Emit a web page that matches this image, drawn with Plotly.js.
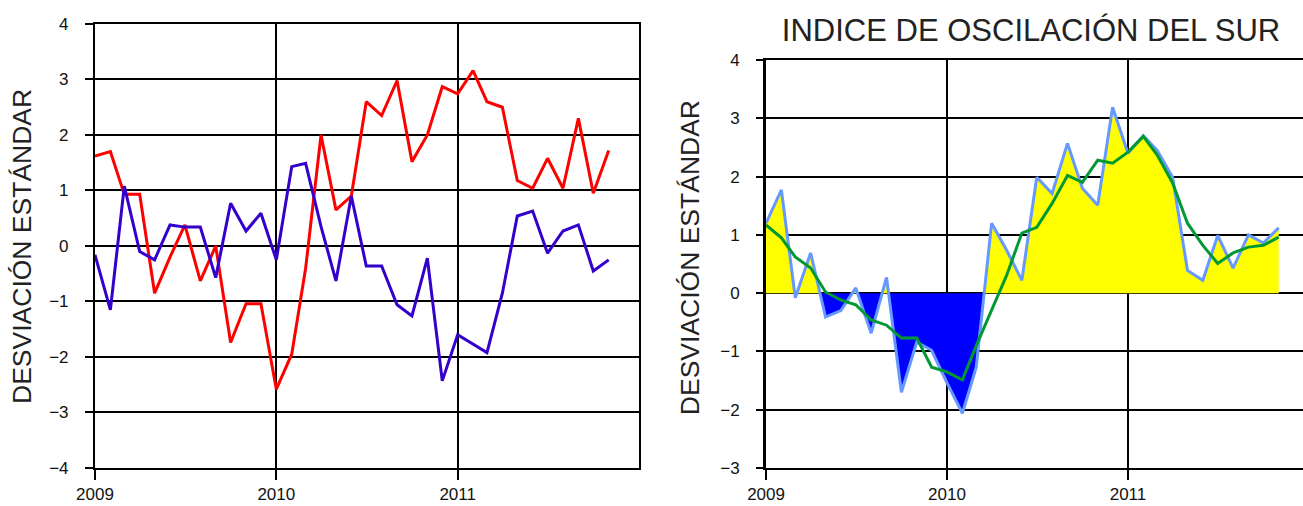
<!DOCTYPE html>
<html>
<head>
<meta charset="utf-8">
<script src="https://cdn.plot.ly/plotly-3.0.1.min.js"></script>
<style>html,body{margin:0;padding:0;background:#fff;}#chart{width:1303px;height:506px;}</style>
</head>
<body>
<div id="chart"></div>
<script>
// Months Jan 2009 - Nov 2011
const months = ["2009-01","2009-02","2009-03","2009-04","2009-05","2009-06","2009-07","2009-08","2009-09","2009-10","2009-11","2009-12",
                "2010-01","2010-02","2010-03","2010-04","2010-05","2010-06","2010-07","2010-08","2010-09","2010-10","2010-11","2010-12",
                "2011-01","2011-02","2011-03","2011-04","2011-05","2011-06","2011-07","2011-08","2011-09","2011-10","2011-11"];

// Left chart series (standard deviation)
const serieRoja = [1.62,1.70,0.93,0.93,-0.85,-0.2,0.38,-0.63,0,-1.74,-1.04,-1.04,
                   -2.58,-1.95,-0.4,2.0,0.65,0.9,2.6,2.35,2.98,1.52,2.0,2.87,
                   2.74,3.16,2.6,2.5,1.18,1.04,1.58,1.04,2.3,0.95,1.72];
const serieAzul = [-0.16,-1.15,1.08,-0.1,-0.25,0.38,0.34,0.34,-0.57,0.77,0.27,0.59,
                   -0.25,1.43,1.49,0.35,-0.63,0.9,-0.36,-0.36,-1.06,-1.26,-0.22,-2.43,
                   -1.6,-1.76,-1.92,-0.85,0.54,0.63,-0.13,0.27,0.38,-0.45,-0.25];

// Right chart: Southern Oscillation Index (monthly) and its running mean
const ios = [1.2,1.77,-0.08,0.69,-0.41,-0.3,0.09,-0.69,0.27,-1.7,-0.84,-0.98,
             -1.54,-2.06,-1.27,1.2,0.74,0.22,1.99,1.71,2.57,1.8,1.51,3.19,
             2.4,2.7,2.45,1.99,0.39,0.22,0.99,0.43,1.0,0.86,1.12];
const iosMedia = [1.17,0.95,0.62,0.43,0.02,-0.12,-0.2,-0.46,-0.55,-0.77,-0.77,-1.27,
                  -1.35,-1.49,-0.9,-0.3,0.3,1.03,1.13,1.54,2.02,1.9,2.28,2.23,
                  2.42,2.69,2.37,1.89,1.2,0.82,0.51,0.69,0.79,0.82,0.96];

const yearTicks = ["2009-01-01","2010-01-01","2011-01-01"];
const yearLabels = ["2009","2010","2011"];
const titulo = "INDICE DE OSCILACIÓN DEL SUR";
const ejeY = "DESVIACIÓN ESTÁNDAR";

// split series into positive / negative fills with zero crossings
function toMs(m){ const p=m.split("-"); return Date.UTC(+p[0], +p[1]-1, 1); }
function splitFill(xs, vs){
  const pos={x:[],y:[]}, neg={x:[],y:[]};
  for(let i=0;i<vs.length;i++){
    const t=toMs(xs[i]), v=vs[i];
    pos.x.push(t); pos.y.push(Math.max(v,0));
    neg.x.push(t); neg.y.push(Math.min(v,0));
    if(i<vs.length-1){
      const v2=vs[i+1];
      if(v*v2<0){
        const t2=toMs(xs[i+1]);
        const tc=t+(t2-t)*(v/(v-v2));
        pos.x.push(tc); pos.y.push(0);
        neg.x.push(tc); neg.y.push(0);
      }
    }
  }
  return {pos,neg};
}
const f = splitFill(months, ios);

const font = "Liberation Sans, Arial, sans-serif";
const traces = [
  {x:months, y:serieRoja, type:"scatter", mode:"lines", line:{color:"#ff0000", width:3}, xaxis:"x", yaxis:"y", hoverinfo:"skip"},
  {x:months, y:serieAzul, type:"scatter", mode:"lines", line:{color:"#3300cc", width:3}, xaxis:"x", yaxis:"y", hoverinfo:"skip"},
  {x:f.pos.x, y:f.pos.y, type:"scatter", mode:"lines", fill:"tozeroy", fillcolor:"#ffff00", line:{width:0, color:"rgba(0,0,0,0)"}, xaxis:"x2", yaxis:"y2", hoverinfo:"skip"},
  {x:f.neg.x, y:f.neg.y, type:"scatter", mode:"lines", fill:"tozeroy", fillcolor:"#0000ff", line:{width:0, color:"rgba(0,0,0,0)"}, xaxis:"x2", yaxis:"y2", hoverinfo:"skip"},
  {x:months, y:ios, type:"scatter", mode:"lines", line:{color:"#6699ff", width:3}, xaxis:"x2", yaxis:"y2", hoverinfo:"skip"},
  {x:months, y:iosMedia, type:"scatter", mode:"lines", line:{color:"#009933", width:3}, xaxis:"x2", yaxis:"y2", hoverinfo:"skip"}
];

const axCommon = {showgrid:true, gridcolor:"#000", gridwidth:2, zeroline:false, ticks:"outside", tickcolor:"#000",
                  tickfont:{family:font, size:17, color:"#111"}, fixedrange:true};

const layout = {
  width:1303, height:506, margin:{l:0,r:0,t:0,b:0}, paper_bgcolor:"#fff", plot_bgcolor:"#fff",
  showlegend:false, font:{family:font},
  title:{text:titulo, x:0.7913, xanchor:"center", xref:"paper", y:0.94, yanchor:"middle", yref:"paper",
         font:{family:font, size:31, color:"#222"}},
  xaxis:Object.assign({}, axCommon, {domain:[0.0729,0.4904], anchor:"y", type:"date", range:["2009-01-01","2012-01-01"],
         tickvals:yearTicks, ticktext:yearLabels, ticklen:10, tickwidth:2, showline:true, mirror:true, linecolor:"#000", linewidth:2,
         ticklabelstandoff:0}),
  yaxis:Object.assign({}, axCommon, {domain:[0.0751,0.9526], anchor:"x", range:[-4,4], dtick:1, ticklen:8, tickwidth:2,
         showline:true, mirror:true, linecolor:"#000", linewidth:2, ticklabelstandoff:13}),
  xaxis2:Object.assign({}, axCommon, {domain:[0.5879,1], anchor:"y2", type:"date", range:["2009-01-01","2011-12-20"],
         tickvals:yearTicks, ticktext:yearLabels, ticklen:10, tickwidth:2, showline:true, mirror:true, linecolor:"#000", linewidth:2,
         ticklabelstandoff:0}),
  yaxis2:Object.assign({}, axCommon, {domain:[0.0751,0.8814], anchor:"x2", range:[-3,4], dtick:1, ticklen:7, tickwidth:2,
         showline:true, mirror:false, linecolor:"#000", linewidth:3, ticklabelstandoff:13}),
  annotations:[
    {text:ejeY, xref:"paper", yref:"paper", x:0.0169, y:0.512, xanchor:"center", yanchor:"middle", textangle:-90, showarrow:false,
     font:{family:font, size:26.5, color:"#222"}},
    {text:ejeY, xref:"paper", yref:"paper", x:0.5296, y:0.49, xanchor:"center", yanchor:"middle", textangle:-90, showarrow:false,
     font:{family:font, size:26.5, color:"#222"}}
  ]
};

Plotly.newPlot("chart", traces, layout, {displayModeBar:false, staticPlot:true});
</script>
</body>
</html>
